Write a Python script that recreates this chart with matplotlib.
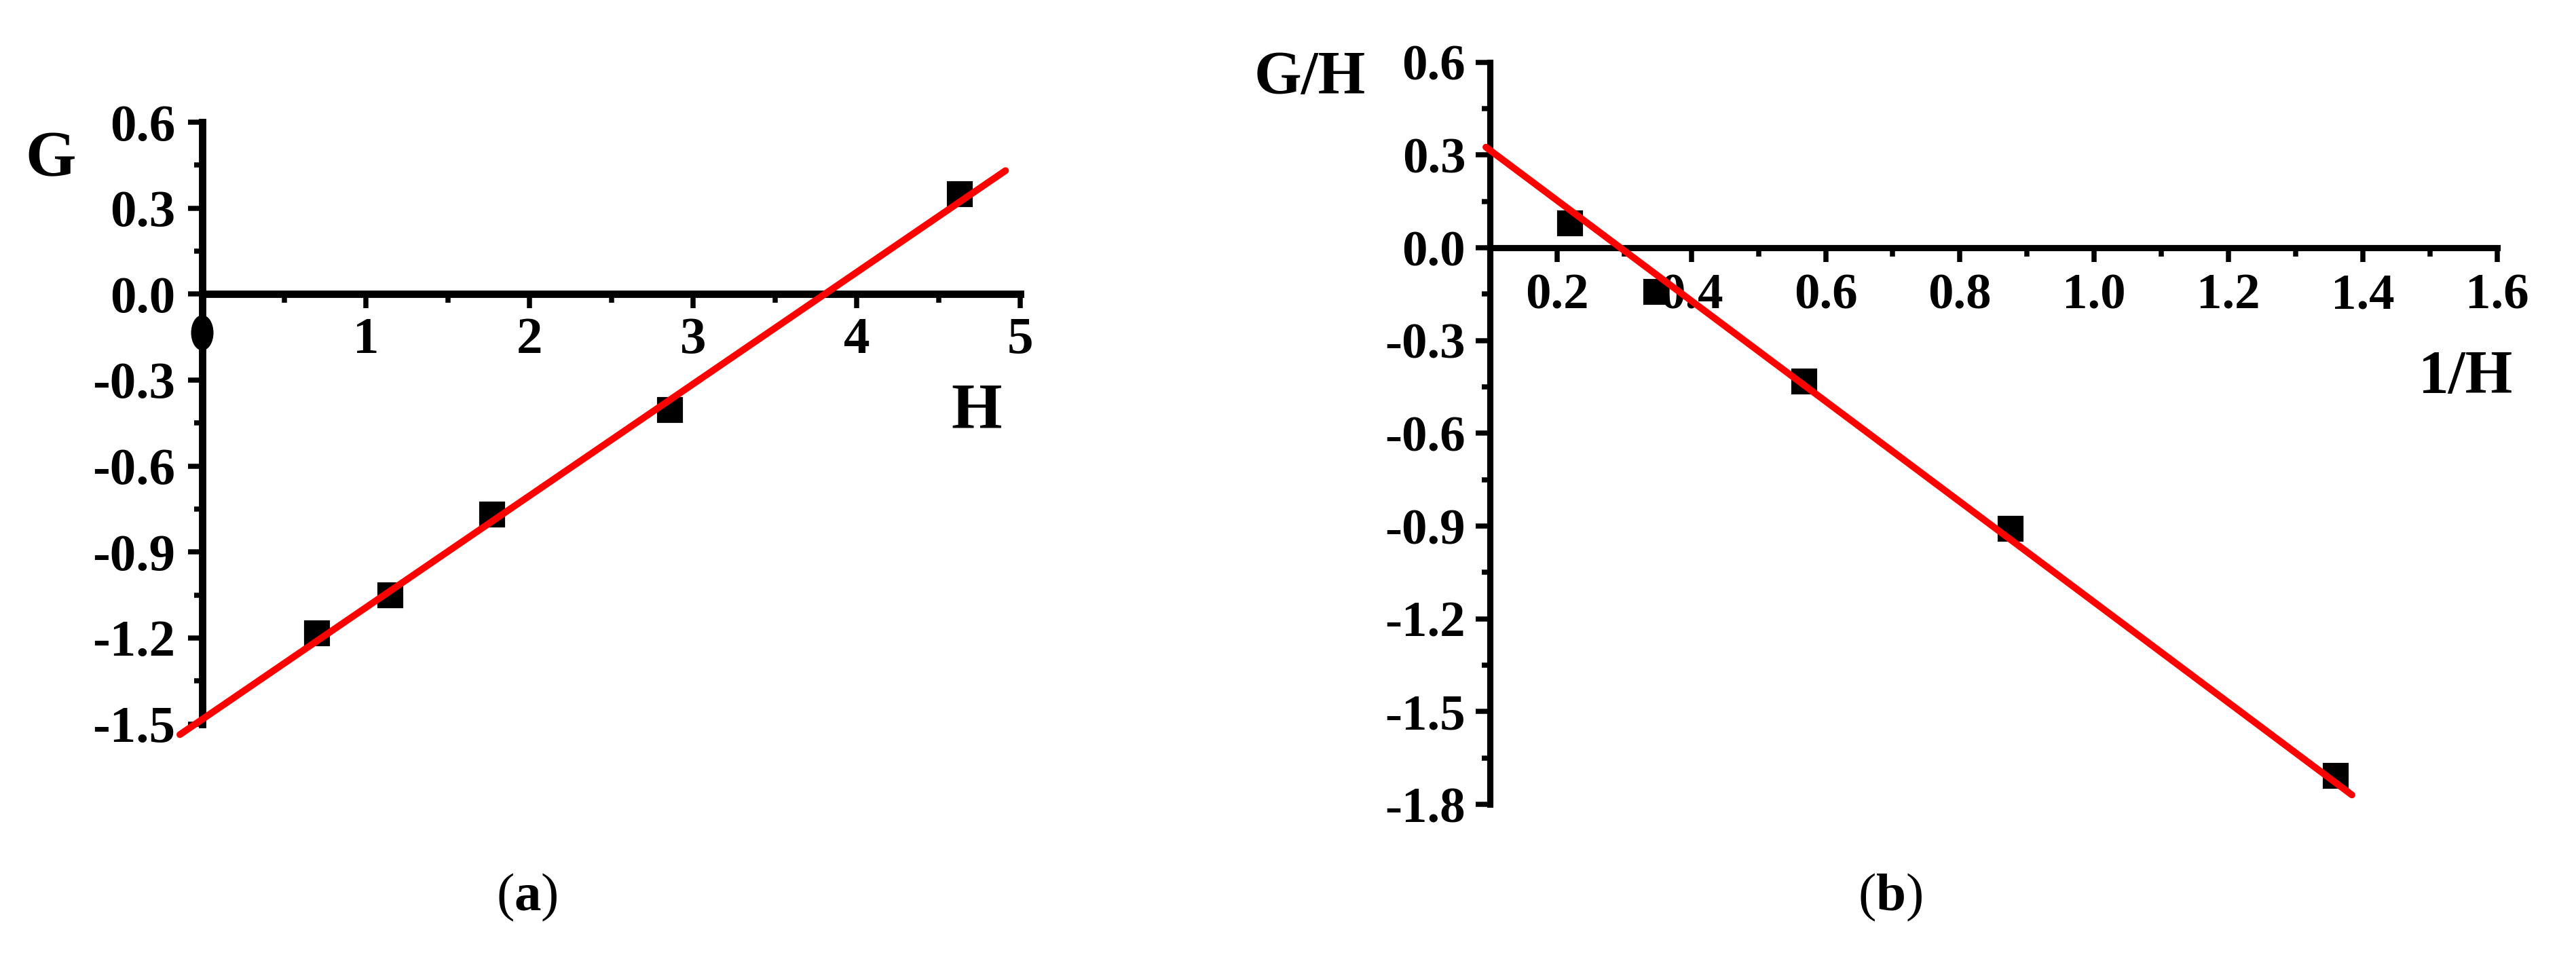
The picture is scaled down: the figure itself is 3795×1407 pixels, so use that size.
import matplotlib
matplotlib.use("Agg")
import matplotlib.pyplot as plt
from matplotlib.patches import Ellipse
from matplotlib.ticker import FixedLocator, FixedFormatter
import numpy as np

plt.rcParams['font.family'] = ['Liberation Serif', 'DejaVu Serif']
plt.rcParams['font.weight'] = 'bold'
plt.rcParams['axes.unicode_minus'] = False
plt.rcParams['mathtext.fontset'] = 'custom'
plt.rcParams['mathtext.rm'] = 'Liberation Serif'
plt.rcParams['mathtext.bf'] = 'Liberation Serif:bold'

# ---- data (panel a) ----
H = [0.70, 1.15, 1.77, 2.86, 4.63]
G = [-1.183, -1.050, -0.770, -0.405, 0.350]
fit_a_x = [-0.137, 4.91]
fit_a_slope, fit_a_intercept = 0.390, -1.484
a_xticks = [1, 2, 3, 4, 5]
a_xticklabels = ["1", "2", "3", "4", "5"]
a_xminor = [0.5, 1.5, 2.5, 3.5, 4.5]
a_yticks = [0.6, 0.3, 0.0, -0.3, -0.6, -0.9, -1.2, -1.5]
a_yticklabels = ["0.6", "0.3", "0.0", "-0.3", "-0.6", "-0.9", "-1.2", "-1.5"]
a_yminor = [0.45, 0.15, -0.15, -0.45, -0.75, -1.05, -1.35]

# ---- data (panel b) ----
invH = [0.219, 0.348, 0.568, 0.876, 1.36]
GH = [0.080, -0.143, -0.432, -0.909, -1.707]
fit_b_x = [0.094, 1.384]
fit_b_slope, fit_b_intercept = -1.624, 0.478
b_xticks = [0.2, 0.4, 0.6, 0.8, 1.0, 1.2, 1.4, 1.6]
b_xticklabels = ["0.2", "0.4", "0.6", "0.8", "1.0", "1.2", "1.4", "1.6"]
b_xminor = [0.3, 0.5, 0.7, 0.9, 1.1, 1.3, 1.5]
b_yticks = [0.6, 0.3, 0.0, -0.3, -0.6, -0.9, -1.2, -1.5, -1.8]
b_yticklabels = ["0.6", "0.3", "0.0", "-0.3", "-0.6", "-0.9", "-1.2", "-1.5", "-1.8"]
b_yminor = [0.45, 0.15, -0.15, -0.45, -0.75, -1.05, -1.35, -1.65]

W, Hpx = 3795, 1407
DPI = 300
fig = plt.figure(figsize=(W / DPI, Hpx / DPI), dpi=DPI)


def rect(left, right, top, bottom):
    return [left / W, 1 - bottom / Hpx, (right - left) / W, (bottom - top) / Hpx]


def fpos(x, y):
    return x / W, 1 - y / Hpx


RED = '#ff0000'


def style_axes(ax, lw, tsize, xt, xtl, xm, yt, ytl, ym, xpad, ypad):
    for s in ['top', 'right']:
        ax.spines[s].set_visible(False)
    ax.spines['bottom'].set_position(('data', 0))
    ax.spines['bottom'].set_linewidth(lw)
    ax.spines['left'].set_linewidth(lw)
    ax.spines['bottom'].set_capstyle('projecting')
    ax.xaxis.set_major_locator(FixedLocator(xt))
    ax.xaxis.set_major_formatter(FixedFormatter(xtl))
    ax.xaxis.set_minor_locator(FixedLocator(xm))
    ax.yaxis.set_major_locator(FixedLocator(yt))
    ax.yaxis.set_major_formatter(FixedFormatter(ytl))
    ax.yaxis.set_minor_locator(FixedLocator(ym))
    ax.tick_params(axis='both', which='major', direction='out', length=5,
                   width=1.8, labelsize=tsize)
    ax.tick_params(axis='both', which='minor', direction='out', length=3,
                   width=1.8)
    ax.tick_params(axis='x', which='major', pad=xpad)
    ax.tick_params(axis='y', which='major', pad=ypad)
    for lab in ax.get_xticklabels() + ax.get_yticklabels():
        lab.set_fontweight('bold')
    ax.patch.set_visible(False)


# ---- panel a ----
axa = fig.add_axes(rect(298, 1503, 180, 1066.5))
axa.set_xlim(0, 5)
axa.set_ylim(-1.5, 0.6)
style_axes(axa, 2.6, 18.5, a_xticks, a_xticklabels, a_xminor,
           a_yticks, a_yticklabels, a_yminor, 3.0, 4.5)
axa.plot(H, G, linestyle='none', marker='s', markersize=8,
         color='black', zorder=3, clip_on=False)
xa = np.array(fit_a_x)
axa.plot(xa, fit_a_slope * xa + fit_a_intercept, color=RED, lw=2.4,
         solid_capstyle='round', zorder=4, clip_on=False)
axa.add_patch(Ellipse((0, -0.135), 0.137, 0.1235, facecolor='black',
                      edgecolor='none', zorder=5, clip_on=False))

# ---- panel b ----
axb = fig.add_axes(rect(2195, 3678.5, 91.7, 1185))
axb.set_xlim(0.1, 1.6)
axb.set_ylim(-1.8, 0.6)
style_axes(axb, 2.2, 18, b_xticks, b_xticklabels, b_xminor,
           b_yticks, b_yticklabels, b_yminor, 4.0, 3.6)
axb.plot(invH, GH, linestyle='none', marker='s', markersize=8,
         color='black', zorder=3, clip_on=False)
xb = np.array(fit_b_x)
axb.plot(xb, fit_b_slope * xb + fit_b_intercept, color=RED, lw=2.4,
         solid_capstyle='round', zorder=4, clip_on=False)

# ---- axis labels ----
fig.text(*fpos(75, 236), 'G', fontsize=23, fontweight='bold', ha='center', va='center')
fig.text(*fpos(1439, 608), 'H', fontsize=23, fontweight='bold', ha='center', va='center')
fig.text(*fpos(2012, 116), 'G/H', fontsize=21.5, fontweight='bold', ha='right', va='center')
fig.text(*fpos(3633, 557), '1/H', fontsize=21.5, fontweight='bold', ha='center', va='center')

# ---- captions ----
fig.text(*fpos(776, 1322), r'($\mathbf{a}$)', fontsize=19, fontweight='normal',
         ha='center', va='center')
fig.text(*fpos(2785, 1322), r'($\mathbf{b}$)', fontsize=19, fontweight='normal',
         ha='center', va='center')

fig.savefig('out.png', dpi=DPI, facecolor='white')
